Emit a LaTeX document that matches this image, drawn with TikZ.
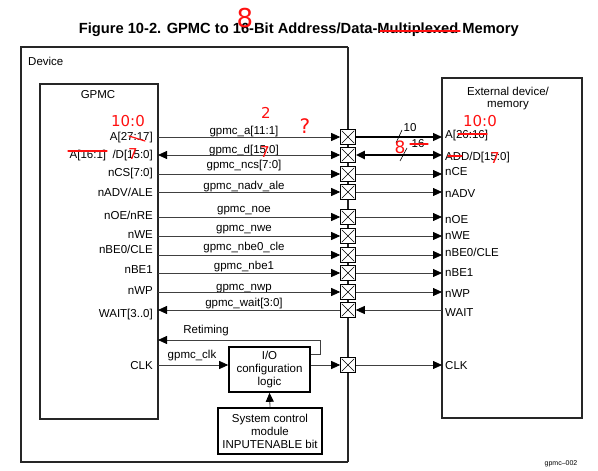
\documentclass[tikz,border=0pt]{standalone}
\usepackage{fontspec}
\setmainfont{Liberation Sans}
\newfontfamily\handfont{DejaVu Sans}
\usetikzlibrary{arrows.meta}
\definecolor{linegray}{HTML}{404040}
\definecolor{penred}{HTML}{FF1010}
\begin{document}
\begin{tikzpicture}[x=1pt,y=-1pt,
  font=\fontsize{11.5}{13}\selectfont,
  box/.style={draw=black!85, line width=1.7pt},
  pad/.style={draw=black, line width=1.1pt, minimum size=14.5pt, inner sep=0pt, fill=white,
    path picture={\draw[line width=0.5pt]
      ([shift={(1pt,1pt)}]path picture bounding box.south west) -- ([shift={(-1pt,-1pt)}]path picture bounding box.north east)
      ([shift={(1pt,-1pt)}]path picture bounding box.north west) -- ([shift={(-1pt,1pt)}]path picture bounding box.south east);}},
  sig/.style={draw=linegray, line width=0.8pt},
  tip/.style={-{Triangle[length=9pt,width=8pt,color=black]}},
  btip/.style={{Triangle[length=9pt,width=8pt,color=black]}-{Triangle[length=9pt,width=8pt,color=black]}},
  ltxt/.style={anchor=base east, inner sep=0pt},
  rtxt/.style={anchor=base west, inner sep=0pt},
  stxt/.style={anchor=base, inner sep=0pt},
  red/.style={text=penred, font=\handfont\fontsize{15}{15}\selectfont},
  redline/.style={draw=penred, line width=1.2pt, line cap=round},
  blockbox/.style={draw=black, line width=1.6pt, align=center, inner sep=2pt, font=\fontsize{11.5}{13}\selectfont}
]
\useasboundingbox (0,0) rectangle (598,471);

% title
\node[anchor=base east, inner sep=0pt, font=\bfseries\fontsize{14.7}{16}\selectfont] (title) at (519,33)
  {Figure 10-2. GPMC to 16-Bit Address/Data-Multiplexed Memory};

% boxes
\draw[box] (348,47) -- (21,47) -- (21,462) -- (348,462);
\draw[box] (348,47) -- (348,462);
\node[anchor=base west, inner sep=0pt] (devlbl) at (28,65) {Device};
\draw[box] (40,84) rectangle (158,419);
\node (gpmclbl) at (98,95) {GPMC};
\draw[box] (442,78) rectangle (582,418);
\node[align=center, inner sep=0pt, font=\fontsize{11.5}{12}\selectfont] (extlbl) at (508,99) {External device/\\memory};

% pads and edge coordinates
\foreach \n/\y in {A/137,D/155,CS/174,ADV/192,OE/217,WE/236,BEa/255,BEb/273,WP/292,WT/310,CK/365}{
  \node[pad] (p\n) at (348,\y) {};
  \coordinate (g\n) at (158,\y);
  \coordinate (e\n) at (442,\y);
}

% left labels
\node[ltxt] (lA) at (153,140) {A[27:17]};
\node[ltxt] (lD) at (153,158) {A[16:1] \ /D[15:0]};
\node[ltxt] (lCS) at (153,176) {nCS[7:0]};
\node[ltxt] (lADV) at (153,196) {nADV/ALE};
\node[ltxt] (lOE) at (153,219) {nOE/nRE};
\node[ltxt] (lWE) at (153,238) {nWE};
\node[ltxt] (lBEa) at (153,253) {nBE0/CLE};
\node[ltxt] (lBEb) at (153,273) {nBE1};
\node[ltxt] (lWP) at (153,294) {nWP};
\node[ltxt] (lWT) at (153,317) {WAIT[3..0]};
\node[ltxt] (lCK) at (153,369) {CLK};

% signal labels
\node[stxt] (sA) at (244,134) {gpmc\_a[11:1]};
\node[stxt] (sD) at (244,153) {gpmc\_d[15:0]};
\node[stxt] (sCS) at (244,168) {gpmc\_ncs[7:0]};
\node[stxt] (sADV) at (244,189) {gpmc\_nadv\_ale};
\node[stxt] (sOE) at (244,212) {gpmc\_noe};
\node[stxt] (sWE) at (244,231) {gpmc\_nwe};
\node[stxt] (sBEa) at (244,250) {gpmc\_nbe0\_cle};
\node[stxt] (sBEb) at (244,269) {gpmc\_nbe1};
\node[stxt] (sWP) at (244,290) {gpmc\_nwp};
\node[stxt] (sWT) at (244,306) {gpmc\_wait[3:0]};

% right labels
\node[rtxt] (rA) at (445,138) {A[26:16]};
\node[rtxt] (rD) at (445,160) {ADD/D[15:0]};
\node[rtxt] (rCS) at (445,175) {nCE};
\node[rtxt] (rADV) at (445,197) {nADV};
\node[rtxt] (rOE) at (445,223) {nOE};
\node[rtxt] (rWE) at (445,239) {nWE};
\node[rtxt] (rBEa) at (445,256) {nBE0/CLE};
\node[rtxt] (rBEb) at (445,276) {nBE1};
\node[rtxt] (rWP) at (445,297) {nWP};
\node[rtxt] (rWT) at (445,316) {WAIT};
\node[rtxt] (rCK) at (445,369) {CLK};

% left connectors
\draw[sig,tip] (gA) -- (pA);
\draw[sig,btip] (gD) -- (pD);
\draw[sig,tip] (gCS) -- (pCS);
\draw[sig,tip] (gADV) -- (pADV);
\draw[sig,tip] (gOE) -- (pOE);
\draw[sig,tip] (gWE) -- (pWE);
\draw[sig,tip] (gBEa) -- (pBEa);
\draw[sig,tip] (gBEb) -- (pBEb);
\draw[sig,tip] (gWP) -- (pWP);
\draw[sig,tip] (pWT) -- (gWT);

% right connectors
\draw[draw=black, line width=1.3pt, tip] (pA) -- (eA);
\draw[draw=black, line width=2.2pt, btip] (pD) -- (eD);
\draw[sig,tip] (pCS) -- (eCS);
\draw[sig,tip] (pADV) -- (eADV);
\draw[sig,tip] (pOE) -- (eOE);
\draw[sig,tip] (pWE) -- (eWE);
\draw[sig,tip] (pBEa) -- (eBEa);
\draw[sig,tip] (pBEb) -- (eBEb);
\draw[sig,tip] (pWP) -- (eWP);
\draw[sig,tip] (eWT) -- (pWT);
\draw[sig,tip] (pCK) -- (eCK);

% bus width marks
\coordinate (slA1) at (396,143); \coordinate (slA2) at (402,130);
\draw[line width=0.6pt] (slA1) -- (slA2);
\node[inner sep=0pt] (wA) at (410,128) {10};
\coordinate (slD1) at (400,161); \coordinate (slD2) at (407,148);
\draw[line width=0.6pt] (slD1) -- (slD2);
\node[inner sep=0pt] (wD) at (418,144) {16};

% clock section
\node[blockbox, minimum width=81pt, minimum height=45pt] (io) at (269.5,369.5) {I/O\\configuration\\logic};
\node[blockbox, minimum width=104pt, minimum height=46pt] (sys) at (270,431) {System control\\module\\INPUTENABLE bit};
\draw[sig,tip] (sys.north) -- (io.south);
\draw[sig,tip] (gCK) -- (gCK -| io.west);
\draw[sig,tip] (io.east |- pCK) -- (pCK);
\coordinate (gRT) at (158,340);
\draw[sig,tip] ([yshift=-8pt]io.north east) -- ++(10,0) |- (gRT);
\node (rtlbl) at (206,331) {Retiming};
\node (clklbl) at (192,356) {gpmc\_clk};

\node[inner sep=0pt, font=\fontsize{7}{8}\selectfont] (figid) at (561,464) {gpmc--002};

% handwritten red annotations
\node[red, font=\handfont\fontsize{26}{26}\selectfont] (h8) at (245,18) {8};
\draw[redline] (380,31) -- (460,31);
\node[red] (hAl) at (128,121) {10:0};
\draw[redline] (129,136) -- (145,141);
\draw[redline] (68,151) -- (107,151);
\node[red] (h7l) at (133,154) {7};
\node[red] (h2m) at (266,113) {2};
\node[red, font=\handfont\fontsize{20}{20}\selectfont] (hq) at (305,126) {?};
\node[red] (h7m) at (265,152) {7};
\node[red] (hAr) at (480,121) {10:0};
\draw[redline] (458,134) -- (487,134);
\node[red, font=\handfont\fontsize{17}{17}\selectfont] (h8r) at (400,147) {8};
\draw[redline] (410,144) -- (428,144);
\draw[redline] (448,156) -- (462,156);
\node[red] (h7r) at (495,158) {7};
\end{tikzpicture}
\end{document}
